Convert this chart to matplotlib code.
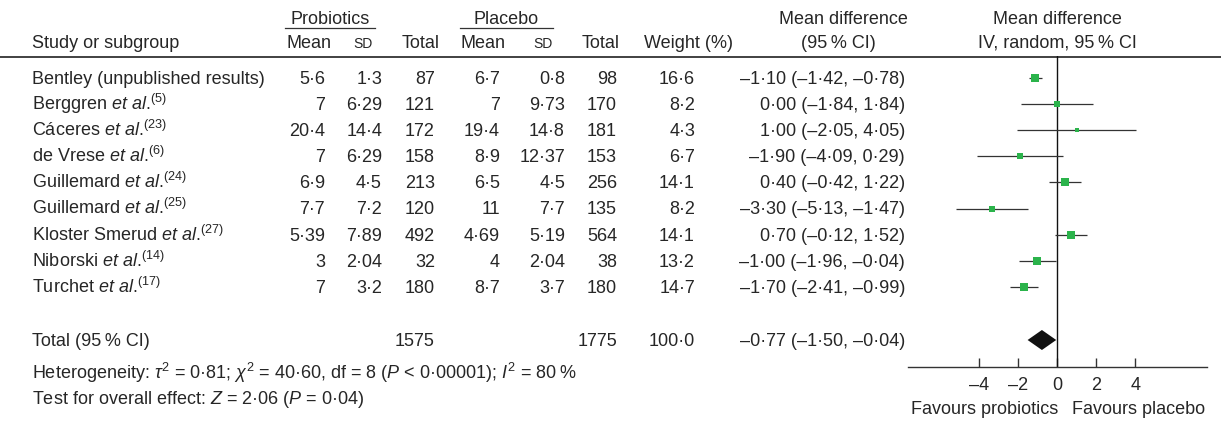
import matplotlib
matplotlib.use("Agg")
import matplotlib.pyplot as plt

plt.rcParams['font.family'] = ['Liberation Sans', 'DejaVu Sans']
plt.rcParams['mathtext.fontset'] = 'custom'
plt.rcParams['mathtext.rm'] = 'Liberation Sans'
plt.rcParams['mathtext.it'] = 'Liberation Sans:italic'
plt.rcParams['mathtext.bf'] = 'Liberation Sans:bold'

# datos del forest plot
studies = ["Bentley (unpublished results)", "Berggren", "Cáceres", "de Vrese", "Guillemard",
           "Guillemard", "Kloster Smerud", "Niborski", "Turchet"]
refs = [None, 5, 23, 6, 24, 25, 27, 14, 17]
prob_mean = [5.6, 7, 20.4, 7, 6.9, 7.7, 5.39, 3, 7]
prob_sd = [1.3, 6.29, 14.4, 6.29, 4.5, 7.2, 7.89, 2.04, 3.2]
prob_n = [87, 121, 172, 158, 213, 120, 492, 32, 180]
plac_mean = [6.7, 7, 19.4, 8.9, 6.5, 11, 4.69, 4, 8.7]
plac_sd = [0.8, 9.73, 14.8, 12.37, 4.5, 7.7, 5.19, 2.04, 3.7]
plac_n = [98, 170, 181, 153, 256, 135, 564, 38, 180]
weight = [16.6, 8.2, 4.3, 6.7, 14.1, 8.2, 14.1, 13.2, 14.7]
md = [-1.10, 0.00, 1.00, -1.90, 0.40, -3.30, 0.70, -1.00, -1.70]
md_lo = [-1.42, -1.84, -2.05, -4.09, -0.42, -5.13, -0.12, -1.96, -2.41]
md_hi = [-0.78, 1.84, 4.05, 0.29, 1.22, -1.47, 1.52, -0.04, -0.99]

total_prob_n = 1575
total_plac_n = 1775
total_weight = 100.0
total_md = -0.77
total_lo = -1.50
total_hi = -0.04

xticks = [-4, -2, 0, 2, 4]

TXT = '#262626'
GREEN = '#2bb34b'
LINE = '#333333'
FS = 13
TS = '\u2009'  # espacio fino


def num(v):
    return '{:g}'.format(v).replace('.', '·')


def dec(v, n):
    return ('{:.%df}' % n).format(v).replace('-', '–').replace('.', '·')


def ci_text(m, lo, hi):
    return dec(m, 2) + ' (' + dec(lo, 2) + ', ' + dec(hi, 2) + ')'


def txt(x, y, s, ha='left', fs=FS):
    tab.text(x, y, s, ha=ha, va='baseline', fontsize=fs, color=TXT)


fig = plt.figure(figsize=(12.21, 4.23), dpi=100)
tab = fig.add_axes([0, 0, 1, 1])
tab.set_xlim(0, 1221)
tab.set_ylim(423, 0)
tab.axis('off')

# cabecera
txt(330, 24, 'Probiotics', 'center')
txt(506, 24, 'Placebo', 'center')
tab.plot([285, 375], [28.5, 28.5], color=LINE, lw=0.9)
tab.plot([460, 553], [28.5, 28.5], color=LINE, lw=0.9)
txt(843, 24, 'Mean difference', 'center')
txt(1057, 24, 'Mean difference', 'center')

txt(32, 48, 'Study or subgroup')
txt(332, 48, 'Mean', 'right')
txt(373, 48, 'SD', 'right', FS - 3)
txt(440, 48, 'Total', 'right')
txt(505, 48, 'Mean', 'right')
txt(553, 48, 'SD', 'right', FS - 3)
txt(620, 48, 'Total', 'right')
txt(733, 48, 'Weight (%)', 'right')
txt(838, 48, '(95' + TS + '% CI)', 'center')
txt(1057, 48, 'IV, random, 95' + TS + '% CI', 'center')
tab.plot([0, 1221], [57, 57], color=LINE, lw=1.3)

row_y = [78 + 26.1 * i for i in range(len(studies))]
total_y = 340

for i, y in enumerate(row_y):
    b = y + 6
    if refs[i] is None:
        name = studies[i]
    else:
        name = studies[i] + ' ' + r'$\mathit{et\ al.}\!^{\mathrm{(%d)}}$' % refs[i]
    txt(32, b, name)
    txt(325, b, num(prob_mean[i]), 'right')
    txt(382, b, num(prob_sd[i]), 'right')
    txt(435, b, str(prob_n[i]), 'right')
    txt(500, b, num(plac_mean[i]), 'right')
    txt(565, b, num(plac_sd[i]), 'right')
    txt(617, b, str(plac_n[i]), 'right')
    txt(695, b, dec(weight[i], 1), 'right')
    txt(905, b, ci_text(md[i], md_lo[i], md_hi[i]), 'right')

b = total_y + 6
txt(32, b, 'Total (95' + TS + '% CI)')
txt(435, b, str(total_prob_n), 'right')
txt(617, b, str(total_plac_n), 'right')
txt(695, b, dec(total_weight, 1), 'right')
txt(905, b, ci_text(total_md, total_lo, total_hi), 'right')

txt(32, 379, r'Heterogeneity: $\tau^2$ = 0·81; $\chi^2$ = 40·60, df = 8 ($P$ < 0·00001); $I^2$ = 80' + TS + '%')
txt(32, 404, r'Test for overall effect: $Z$ = 2·06 ($P$ = 0·04)')

# forest
ax = fig.add_axes([908 / 1221, (423 - 367) / 423, 299 / 1221, (367 - 56) / 423])
ax.patch.set_alpha(0)
ax.set_xlim(-7.6, 7.65)
ax.set_ylim(367, 56)
for s in ['top', 'left', 'right']:
    ax.spines[s].set_visible(False)
ax.spines['bottom'].set_color(LINE)
ax.spines['bottom'].set_linewidth(1.0)
ax.set_yticks([])
ax.set_xticks(xticks)
ax.set_xticklabels([str(t).replace('-', '–') for t in xticks], fontsize=FS, color=TXT)
ax.tick_params(axis='x', direction='in', length=6.5, width=1.0, color=LINE, pad=7.5)
ax.axvline(0, color='#111111', lw=1.0)

for i, y in enumerate(row_y):
    ax.plot([md_lo[i], md_hi[i]], [y, y], color=LINE, lw=0.9, solid_capstyle='butt')
    ax.plot(md[i], y, marker='s', color=GREEN, markeredgewidth=0,
            markersize=2.1 * weight[i] ** 0.5 * 0.72)

half_h = 10
ax.fill([total_lo, total_md, total_hi, total_md], [total_y, total_y - half_h, total_y, total_y + half_h],
        color='#111111', lw=0)

ax.text(0.05, 414, 'Favours probiotics', ha='right', va='baseline', fontsize=FS, color=TXT, clip_on=False)
ax.text(0.75, 414, 'Favours placebo', ha='left', va='baseline', fontsize=FS, color=TXT, clip_on=False)

fig.savefig('out.png', dpi=100)
